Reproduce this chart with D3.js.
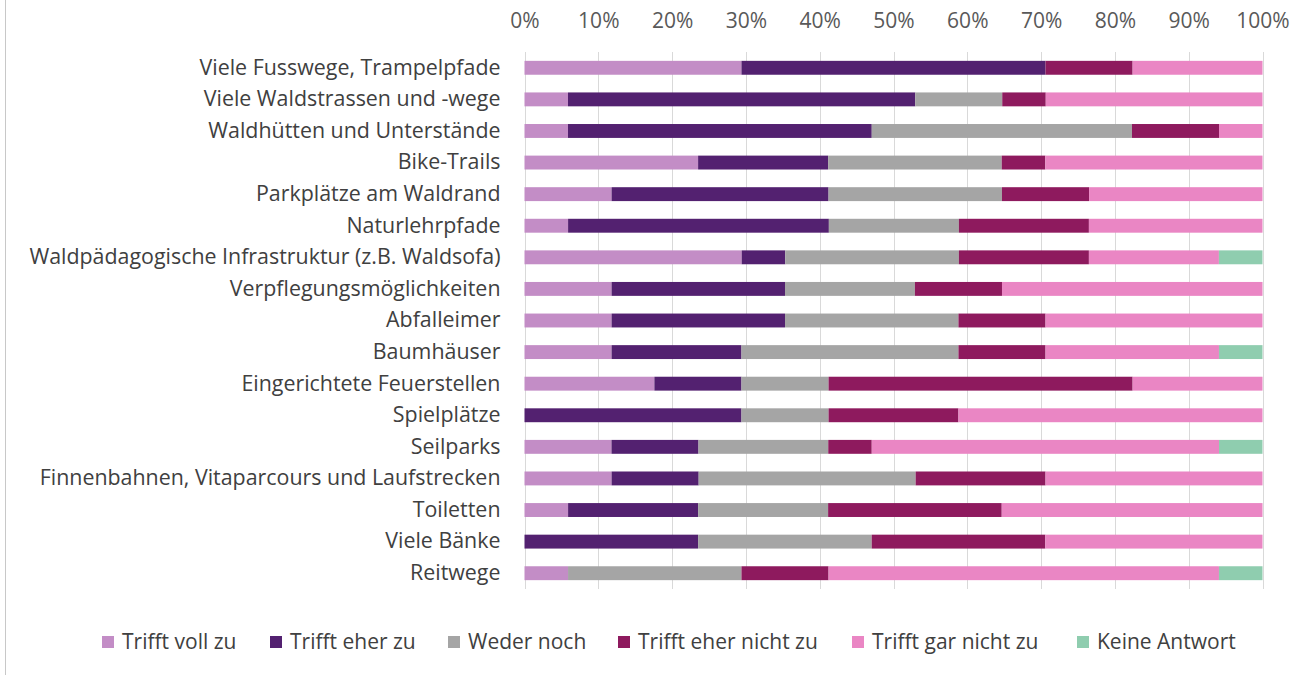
<!DOCTYPE html>
<html>
<head>
<meta charset="utf-8">
<script src="https://cdn.jsdelivr.net/npm/d3@7"></script>
<style>
  html, body { margin: 0; padding: 0; background: #ffffff; }
  svg { display: block; font-family: "Open Sans", "Noto Sans", sans-serif; }
</style>
</head>
<body>
<svg id="chart" width="1299" height="675"></svg>
<script>
// Survey items (top to bottom)
const categories = [
  "Viele Fusswege, Trampelpfade",
  "Viele Waldstrassen und -wege",
  "Waldhütten und Unterstände",
  "Bike-Trails",
  "Parkplätze am Waldrand",
  "Naturlehrpfade",
  "Waldpädagogische Infrastruktur (z.B. Waldsofa)",
  "Verpflegungsmöglichkeiten",
  "Abfalleimer",
  "Baumhäuser",
  "Eingerichtete Feuerstellen",
  "Spielplätze",
  "Seilparks",
  "Finnenbahnen, Vitaparcours und Laufstrecken",
  "Toiletten",
  "Viele Bänke",
  "Reitwege"
];

// Answer categories (legend order = stacking order)
const seriesNames = [
  "Trifft voll zu",
  "Trifft eher zu",
  "Weder noch",
  "Trifft eher nicht zu",
  "Trifft gar nicht zu",
  "Keine Antwort"
];

// Share of answers in percent, one array per answer, in category order
const trifftVoll      = [29.4, 5.9, 5.9, 23.5, 11.8, 5.9, 29.4, 11.8, 11.8, 11.8, 17.6, 0.0, 11.8, 11.8, 5.9, 0.0, 5.9];
const trifftEher      = [41.2, 47.1, 41.2, 17.6, 29.4, 35.3, 5.9, 23.5, 23.5, 17.6, 11.8, 29.4, 11.8, 11.8, 17.6, 23.5, 0.0];
const wederNoch       = [0.0, 11.8, 35.3, 23.5, 23.5, 17.6, 23.5, 17.6, 23.5, 29.4, 11.8, 11.8, 17.6, 29.4, 17.6, 23.5, 23.5];
const trifftEherNicht = [11.8, 5.9, 11.8, 5.9, 11.8, 17.6, 17.6, 11.8, 11.8, 11.8, 41.2, 17.6, 5.9, 17.6, 23.5, 23.5, 11.8];
const trifftGarNicht  = [17.6, 29.4, 5.9, 29.4, 23.5, 23.5, 17.6, 35.3, 29.4, 23.5, 17.6, 41.2, 47.1, 29.4, 35.3, 29.4, 52.9];
const keineAntwort    = [0.0, 0.0, 0.0, 0.0, 0.0, 0.0, 5.9, 0.0, 0.0, 5.9, 0.0, 0.0, 5.9, 0.0, 0.0, 0.0, 5.9];

const tickValues = [0, 0.1, 0.2, 0.3, 0.4, 0.5, 0.6, 0.7, 0.8, 0.9, 1.0];

const colors = ["#c38dc6", "#532170", "#a5a5a5", "#8e1a5e", "#ea86c4", "#8fcdaf"];

const seriesArrays = [trifftVoll, trifftEher, wederNoch, trifftEherNicht, trifftGarNicht, keineAntwort];
const rows = categories.map((c, i) => {
  const r = { category: c };
  seriesNames.forEach((s, j) => { r[s] = seriesArrays[j][i]; });
  return r;
});

const svg = d3.select("#chart");
const FONT = 21;
const LABEL_FONT = 21.4;

// thin frame line on the left side
svg.append("line")
  .attr("x1", 5.5).attr("x2", 5.5).attr("y1", 0).attr("y2", 675)
  .attr("stroke", "#c8c8c8").attr("stroke-width", 1);

const plot = { left: 524.5, right: 1262.5, top: 52, bottom: 589 };

const x = d3.scaleLinear().domain([0, 1]).range([plot.left, plot.right]);
const y = d3.scaleBand().domain(categories).range([plot.top, plot.bottom]).paddingInner(0.56).paddingOuter(0.28);

// vertical gridlines
svg.append("g")
  .selectAll("line")
  .data(tickValues)
  .join("line")
  .attr("x1", d => Math.round(x(d)) + 0.5)
  .attr("x2", d => Math.round(x(d)) + 0.5)
  .attr("y1", plot.top)
  .attr("y2", plot.bottom)
  .attr("stroke", "#d9d9d9")
  .attr("stroke-width", 1);

// percentage axis on top
const xAxis = d3.axisTop(x).tickValues(tickValues).tickFormat(d3.format(".0%")).tickSize(0).tickPadding(0);
const gx = svg.append("g").attr("transform", `translate(0, 28)`).call(xAxis);
gx.select(".domain").remove();
gx.selectAll("text")
  .attr("fill", "#595959")
  .attr("font-size", FONT)
  .attr("font-family", "'Open Sans', sans-serif")
  .attr("dy", 0);

// stacked bars (normalised to 100 %)
const stack = d3.stack().keys(seriesNames).offset(d3.stackOffsetExpand);
const stacked = stack(rows);

svg.append("g")
  .selectAll("g")
  .data(stacked)
  .join("g")
  .attr("fill", (d, i) => colors[i])
  .selectAll("rect")
  .data(d => d)
  .join("rect")
  .attr("x", d => x(d[0]))
  .attr("y", d => y(d.data.category))
  .attr("width", d => Math.max(0, x(d[1]) - x(d[0])))
  .attr("height", y.bandwidth());

// category labels
const yAxis = d3.axisLeft(y).tickSize(0).tickPadding(24);
const gy = svg.append("g").attr("transform", `translate(${plot.left}, 0)`).call(yAxis);
gy.select(".domain").remove();
gy.selectAll("text")
  .attr("fill", "#404040")
  .attr("font-size", LABEL_FONT)
  .attr("font-family", "'Open Sans', sans-serif");

// legend
const legendItems = seriesNames.map((s, i) => ({ name: s, color: colors[i] }));
const legendX = [102, 270, 448, 618, 852, 1077];
const legend = svg.append("g").attr("transform", "translate(0, 642)");
const li = legend.selectAll("g").data(legendItems).join("g")
  .attr("transform", (d, i) => `translate(${legendX[i]}, 0)`);
li.append("rect").attr("x", 0).attr("y", -6).attr("width", 12).attr("height", 12).attr("fill", d => d.color);
li.append("text")
  .attr("x", 20).attr("y", 0).attr("dy", "0.35em")
  .attr("fill", "#404040")
  .attr("font-size", FONT)
  .text(d => d.name);
</script>
</body>
</html>
